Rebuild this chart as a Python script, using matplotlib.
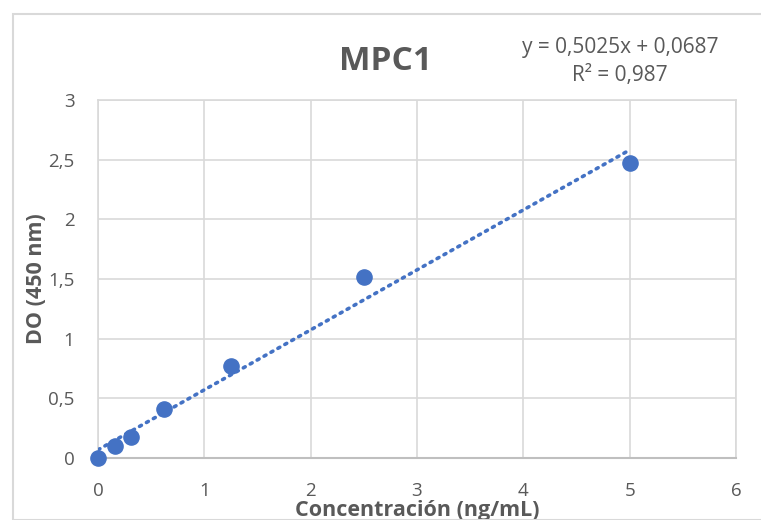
import matplotlib
matplotlib.use("Agg")
import matplotlib.pyplot as plt
from matplotlib.patches import Rectangle
import numpy as np

conc = [0, 0.156, 0.3125, 0.625, 1.25, 2.5, 5]
do = [0.0, 0.10, 0.176, 0.41, 0.77, 1.517, 2.47]
slope = 0.5025
intercept = 0.0687
r2_text = "R² = 0,987"
eq_text = "y = 0,5025x + 0,0687"
title = "MPC1"
xticks = [0, 1, 2, 3, 4, 5, 6]
yticks = [0, 0.5, 1, 1.5, 2, 2.5, 3]
ytick_labels = ["0", "0,5", "1", "1,5", "2", "2,5", "3"]

plt.rcParams['font.family'] = ['Open Sans', 'DejaVu Sans']
W, H = 761, 520
fig = plt.figure(figsize=(W/100, H/100), dpi=100)
fig.patch.set_facecolor('white')
fig.patches.append(Rectangle((13/W, 0), 1, 1 - 14/H, transform=fig.transFigure,
                             fill=False, edgecolor='#d9d9d9', linewidth=1.5))

ax = fig.add_axes([98/W, 1-458/H, (736-98)/W, (458-100)/H])
ax.set_xlim(0, 6)
ax.set_ylim(0, 3)
ax.set_xticks(xticks)
ax.set_xticklabels([str(t) for t in xticks])
ax.set_yticks(yticks)
ax.set_yticklabels(ytick_labels)
ax.grid(True, color='#d9d9d9', linewidth=1.2)
ax.set_axisbelow(True)
for s in ['top', 'right', 'left']:
    ax.spines[s].set_color('#d9d9d9')
    ax.spines[s].set_linewidth(1.2)
ax.spines['bottom'].set_color('#bfbfbf')
ax.spines['bottom'].set_linewidth(1.5)
ax.tick_params(length=0, labelsize=13.5, labelcolor='#595959')
ax.tick_params(axis='x', pad=17)
ax.tick_params(axis='y', pad=17)

xs = np.array([min(conc), max(conc)])
ax.plot(xs, slope*xs + intercept, linestyle=(0, (0.6, 1.6)), color='#4472C4',
        linewidth=2.6, dash_capstyle='round', zorder=3)
ax.scatter(conc, do, s=120, color='#4472C4', zorder=4, clip_on=False)

ax.set_xlabel("Concentración (ng/mL)", fontsize=15.5, fontweight='bold', color='#595959', labelpad=0)
ax.set_ylabel("DO (450 nm)", fontsize=15.5, fontweight='bold', color='#595959', labelpad=1)

fig.text(385/W, 1-62/H, title, fontsize=24, fontweight='bold', color='#595959',
         ha='center', va='center')
fig.text(620/W, 1-48/H, eq_text, fontsize=15, color='#595959', ha='center', va='center')
fig.text(620/W, 1-76/H, r2_text, fontsize=15, color='#595959', ha='center', va='center')

fig.savefig("out.png", dpi=100)
